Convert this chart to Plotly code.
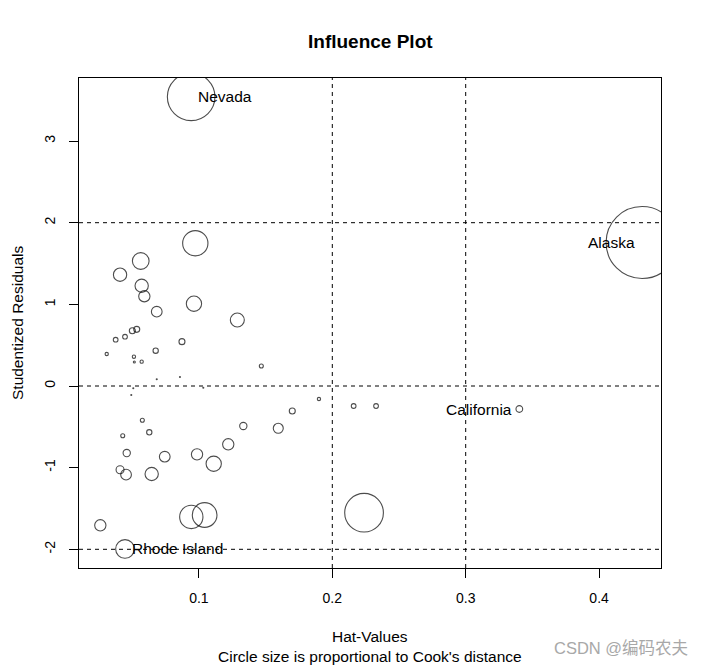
import plotly.graph_objects as go

# Hat-values, studentized residuals, circle diameter (proportional to sqrt Cook's D)
hat = [0.0942, 0.4322, 0.3402, 0.0446, 0.2238,
       0.0973, 0.0564, 0.0409, 0.0571, 0.0591, 0.0963, 0.0684, 0.1288,
       0.0501, 0.0534, 0.0446, 0.0376, 0.0873, 0.0309, 0.0676,
       0.0513, 0.0516, 0.0571, 0.1468,
       0.0684, 0.0858, 0.0508, 0.0493, 0.1033,
       0.0576, 0.0429, 0.0628, 0.1333, 0.0459, 0.0744, 0.0986, 0.1220,
       0.0409, 0.0454, 0.0646, 0.1111, 0.0943, 0.1043, 0.0261,
       0.1900, 0.2160, 0.2328, 0.1700, 0.1595]
stud_res = [3.541, 1.757, -0.282, -1.996, -1.552,
            1.748, 1.531, 1.363, 1.228, 1.099, 1.008, 0.910, 0.808,
            0.677, 0.694, 0.604, 0.567, 0.543, 0.392, 0.432,
            0.359, 0.294, 0.298, 0.245,
            0.082, 0.110, -0.028, -0.110, -0.021,
            -0.420, -0.609, -0.567, -0.490, -0.821, -0.866, -0.837, -0.714,
            -1.025, -1.086, -1.078, -0.952, -1.604, -1.580, -1.706,
            -0.159, -0.245, -0.245, -0.306, -0.518]
circle_size = [47.6, 72.0, 6.7, 18.7, 38.7,
               25.3, 16.7, 13.3, 13.3, 11.3, 15.3, 10.7, 14.0,
               6.0, 6.0, 4.7, 4.7, 6.0, 3.3, 5.3,
               3.3, 2.0, 3.3, 4.0,
               1.0, 1.0, 1.0, 1.0, 1.0,
               4.0, 4.0, 5.3, 7.3, 7.3, 10.7, 11.3, 11.3,
               8.0, 10.7, 13.3, 15.3, 23.3, 24.7, 11.3,
               3.3, 4.7, 4.7, 6.0, 10.0]

label_names = ["Nevada", "Alaska", "California", "Rhode Island"]
label_hat = [0.0942, 0.4322, 0.3402, 0.0446]
label_res = [3.541, 1.757, -0.282, -1.996]
label_side = ["right", "left", "left", "right"]

hat_cutoffs = [0.2, 0.3]
res_cutoffs = [-2, 0, 2]

x_ticks = [0.1, 0.2, 0.3, 0.4]
y_ticks = [-2, -1, 0, 1, 2, 3]

FONT = "Liberation Sans, Arial, Noto Sans CJK SC, sans-serif"

fig = go.Figure()
fig.add_trace(go.Scatter(
    x=hat, y=stud_res, mode="markers",
    marker=dict(symbol="circle-open", size=circle_size, sizemode="diameter",
                color="black", line=dict(color="black", width=1.1)),
    cliponaxis=True, showlegend=False, hoverinfo="skip"))

for xv in hat_cutoffs:
    fig.add_shape(type="line", xref="x", yref="paper", x0=xv, x1=xv, y0=0, y1=1,
                  line=dict(color="black", width=1, dash="4px,4px"))
for yv in res_cutoffs:
    fig.add_shape(type="line", xref="paper", yref="y", x0=0, x1=1, y0=yv, y1=yv,
                  line=dict(color="black", width=1, dash="4px,4px"))

for name, hx, ry, side in zip(label_names, label_hat, label_res, label_side):
    fig.add_annotation(x=hx, y=ry, text=name, showarrow=False,
                       xanchor="left" if side == "right" else "right",
                       xshift=5 if side == "right" else -5,
                       yanchor="middle",
                       font=dict(family=FONT, size=15.5, color="black"))

# titles
fig.add_annotation(xref="paper", yref="paper", x=0.5, y=1.0755, text="<b>Influence Plot</b>",
                   showarrow=False, xanchor="center", yanchor="middle",
                   font=dict(family=FONT, size=19, color="black"))
fig.add_annotation(xref="paper", yref="paper", x=0.5, y=-0.1388, text="Hat-Values",
                   showarrow=False, xanchor="center", yanchor="middle",
                   font=dict(family=FONT, size=15.5, color="black"))
fig.add_annotation(xref="paper", yref="paper", x=0.5, y=-0.1796,
                   text="Circle size is proportional to Cook's distance",
                   showarrow=False, xanchor="center", yanchor="middle",
                   font=dict(family=FONT, size=15.5, color="black"))
fig.add_annotation(xref="paper", yref="paper", x=-0.1065, y=0.5, text="Studentized Residuals",
                   showarrow=False, xanchor="center", yanchor="middle", textangle=-90,
                   font=dict(family=FONT, size=15.5, color="black"))
fig.add_annotation(xref="paper", yref="paper", x=1.0498, y=-0.163, text="CSDN @编码农夫",
                   showarrow=False, xanchor="right", yanchor="middle",
                   font=dict(family=FONT, size=16.5, color="#a8a8a8"))

fig.update_layout(
    width=705, height=666,
    margin=dict(l=71, r=52, t=70, b=106),
    paper_bgcolor="white", plot_bgcolor="white",
    font=dict(family=FONT, size=14, color="black"),
    xaxis=dict(range=[0.01012, 0.4464], tickvals=x_ticks, ticktext=[str(v) for v in x_ticks],
               ticks="outside", ticklen=9, tickwidth=1, tickcolor="black",
               showline=True, linecolor="black", linewidth=1, mirror=True,
               showgrid=False, zeroline=False, ticklabelstandoff=8,
               tickfont=dict(family=FONT, size=14, color="black")),
    yaxis=dict(range=[-2.229, 3.772], tickvals=y_ticks, ticktext=[str(v) for v in y_ticks],
               ticks="outside", ticklen=9, tickwidth=1, tickcolor="black",
               showline=True, linecolor="black", linewidth=1, mirror=True,
               showgrid=False, zeroline=False, tickangle=-90, ticklabelstandoff=8,
               tickfont=dict(family=FONT, size=14, color="black")),
)

fig.write_html("out.html")
